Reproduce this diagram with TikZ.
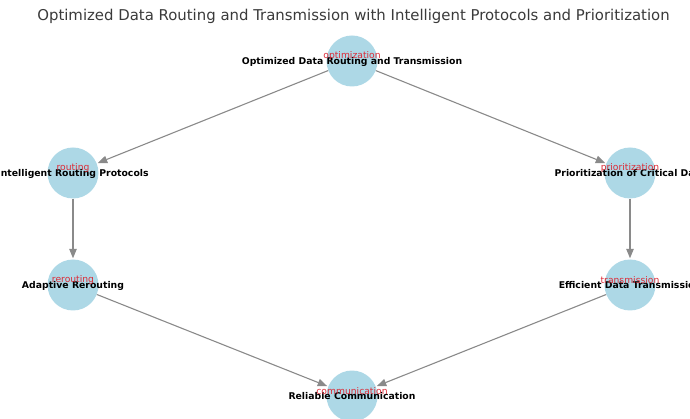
\documentclass[tikz,border=0pt]{standalone}
\usepackage{fontspec}
\setmainfont{DejaVu Sans}
\usetikzlibrary{arrows.meta}
\definecolor{nodefill}{HTML}{ADD8E6}
\definecolor{edgegray}{HTML}{8A8A8A}
\definecolor{tagred}{HTML}{DC2A36}
\definecolor{titlegray}{HTML}{3A3A3A}
\begin{document}
\begin{tikzpicture}[x=1pt,y=-1pt,
  concept/.style={circle, fill=nodefill, minimum size=51pt, inner sep=0pt},
  flow/.style={draw=edgegray, line width=1.1pt, -{Triangle[length=9.5pt,width=7.5pt]}, shorten >=1pt},
  caption/.style={font=\bfseries\fontsize{9.3}{10}\selectfont, text=black, inner sep=0pt},
  tag/.style={font=\fontsize{9.2}{10}\selectfont, text=tagred, inner sep=0pt}]
\useasboundingbox (0,0) rectangle (690,419);
\clip (0,0) rectangle (690,419);

% heading
\node[font=\fontsize{14.9}{17}\selectfont, text=titlegray] (heading) at (353.5,16)
  {Optimized Data Routing and Transmission with Intelligent Protocols and Prioritization};

% concept circles
\node[concept] (opt)  at (352,61)  {};
\node[concept] (rout) at (73,173)  {};
\node[concept] (prio) at (630,173) {};
\node[concept] (rer)  at (73,285)  {};
\node[concept] (tran) at (630,285) {};
\node[concept] (comm) at (352,396) {};

% directed links
\draw[flow] (opt)  -- (rout);
\draw[flow] (opt)  -- (prio);
\draw[flow] (rout) -- (rer);
\draw[flow] (prio) -- (tran);
\draw[flow] (rer)  -- (comm);
\draw[flow] (tran) -- (comm);

% circle names
\node[caption] (optL)  at (352,61.5)  {Optimized Data Routing and Transmission};
\node[caption] (routL) at (73,173.5)  {Intelligent Routing Protocols};
\node[caption] (prioL) at (630,173.5) {Prioritization of Critical Data};
\node[caption] (rerL)  at (73,285.5)  {Adaptive Rerouting};
\node[caption] (tranL) at (630,285.5) {Efficient Data Transmission};
\node[caption] (commL) at (352,396.5) {Reliable Communication};

% tags
\node[tag] (optT)  at (352,56)  {optimization};
\node[tag] (routT) at (73,168)  {routing};
\node[tag] (prioT) at (630,168) {prioritization};
\node[tag] (rerT)  at (73,280)  {rerouting};
\node[tag] (tranT) at (630,280) {transmission};
\node[tag] (commT) at (352,391) {communication};
\end{tikzpicture}
\end{document}
